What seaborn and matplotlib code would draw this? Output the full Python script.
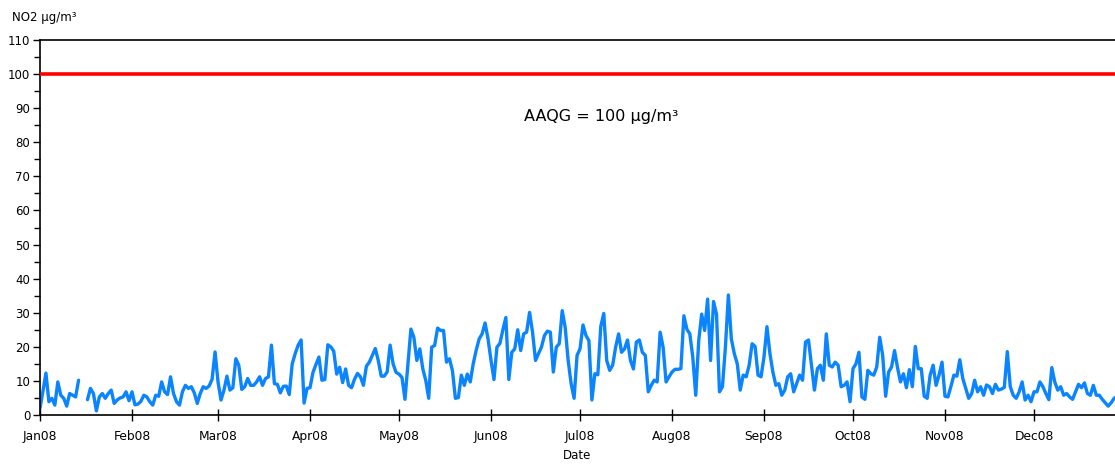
import numpy as np
import pandas as pd
import matplotlib
matplotlib.use("Agg")
import matplotlib.pyplot as plt
from matplotlib.ticker import MultipleLocator
import seaborn as sns

# Daily NO2 values (µg/m³), 2008
jan = [2, 7, 12.3, 3.9, 4.9, 2.9, 9.7, 5.8, 4.9, 2.6, 6.3, 5.8, 5.3, 10.2, np.nan, np.nan,
       4.5, 7.8, 6.3, 1.2, 5.3, 6.3, 4.9, 6.3, 7.3, 3.4, 4.4, 5, 5.3, 6.8, 4.2]
feb = [6.8, 3, 3.2, 4, 5.8, 5.3, 3.9, 2.9, 5.8, 5.5, 9.7, 6.8, 6, 11.2, 6.3, 3.9, 2.9,
       6.8, 8.7, 7.8, 8.3, 6.5, 3.4, 6.3, 8.3, 7.8, 8.5, 10.5, 18.5]
mar = [9.7, 4.4, 7.3, 11.4, 7.3, 8, 16.5, 14.6, 7.5, 8.3, 10.7, 8.7, 8.7, 9.7, 11.2, 8.7,
       10.7, 11.2, 20.5, 9.2, 9, 6.5, 8.4, 8.5, 6, 15, 18, 20.5, 22, 3.5, 7.8]
apr = [8, 12.5, 14.8, 17, 10.2, 10.4, 20.6, 20, 18.7, 12, 14, 9.5, 13.5, 8.7, 8, 10.5,
       12.2, 11.2, 8.7, 14.3, 15.5, 17.5, 19.5, 16, 11.4, 11.4, 12.6, 20.5, 15, 12.5]
may = [12, 11, 4.6, 15, 25.2, 22.8, 16, 19.4, 13.6, 10.2, 4.9, 19.9, 20.4, 25.5, 24.8,
       24.8, 15.5, 16.5, 13, 4.9, 5.1, 11.7, 8.7, 12, 9.7, 15, 19, 22.3, 23.8, 27, 22.3]
jun = [16, 10.4, 19.9, 21, 25, 28.6, 10.4, 18.4, 19.4, 25, 18.9, 23.8, 24.3, 30.1, 24.3,
       16, 18, 19.9, 23.3, 24.6, 24.3, 12.6, 19.9, 20.9, 30.6, 25.7, 16, 9.2, 4.9, 17.5]
jul = [19.4, 26.4, 23.3, 21.8, 4.4, 12.1, 11.8, 26, 29.8, 16, 13.1, 14.6, 19.9, 23.8,
       18.4, 19.4, 22, 16, 13.5, 21.4, 22, 18.4, 17.5, 6.8, 8.7, 10.2, 9.7, 24.3, 19.9,
       9.7, 11.2]
aug = [12.6, 13.4, 13.4, 13.6, 29.1, 25.2, 23.8, 17, 5.8, 21.8, 29.6, 24.8, 34, 16, 33.3,
       29.6, 6.8, 8.3, 19.9, 35.2, 22.3, 18, 15, 7.3, 11.7, 11.2, 14.6, 20.9, 20.1, 11.7,
       11.2]
sep = [17, 25.9, 18, 12.6, 8.7, 9.2, 5.8, 7.3, 11.2, 12.1, 6.8, 9.2, 11.7, 10.2, 21.4, 22,
       14.6, 7.3, 13.6, 14.6, 10.2, 23.8, 14.6, 14.1, 15.5, 14.6, 8.3, 8.7, 9.7, 3.9]
oct_ = [13.6, 15, 18.4, 5.3, 4.6, 13.1, 12.1, 11.7, 14.1, 22.8, 17.5, 5.5, 12.6, 14.1,
        18.9, 13.9, 9.7, 12.1, 8, 13.3, 8.3, 20.1, 13.6, 13.6, 5.5, 4.9, 11.7, 14.6, 8.7,
        11.7, 15.5]
nov = [5.5, 5.3, 8.4, 11.7, 11.4, 16.2, 10.7, 7.8, 4.9, 6.3, 10.2, 6.8, 8.3, 5.8, 8.8,
       8.3, 6.3, 9, 7.3, 7.6, 8.1, 18.6, 8.3, 5.8, 4.9, 6.8, 9.7, 4.4, 5.8, 3.9]
dec = [6.8, 6.8, 9.7, 8.3, 6.3, 4.5, 13.9, 9.7, 7.3, 8.3, 5.8, 6.3, 5.3, 4.6, 6.8, 9, 8,
       9.4, 6.3, 5.8, 8.7, 5.8, 5.8, 4.6, 3.6, 2.6, 3.6, 4.9, 5.5, 6, 6]

month_labels = ["Jan08", "Feb08", "Mar08", "Apr08", "May08", "Jun08",
                "Jul08", "Aug08", "Sep08", "Oct08", "Nov08", "Dec08"]
aaqg = 100
aaqg_label = "AAQG = 100 µg/m³"
y_ticks = list(range(0, 111, 10))

values = jan + feb + mar + apr + may + jun + jul + aug + sep + oct_ + nov + dec
dates = pd.date_range("2008-01-01", periods=len(values), freq="D")
df = pd.DataFrame({"Date": dates, "NO2": values})
# split into continuous segments so missing days leave a gap
df["segment"] = df["NO2"].isna().cumsum()
df = df.dropna()

sns.set_style("white")
plt.rcParams["font.family"] = ["DejaVu Sans"]
plt.rcParams["text.color"] = "black"
plt.rcParams["axes.labelcolor"] = "black"
plt.rcParams["xtick.color"] = "black"
plt.rcParams["ytick.color"] = "black"

fig = plt.figure(figsize=(11.15, 4.66), dpi=100)
ax = fig.add_axes([40 / 1115, 1 - 415 / 466, 1 - 40 / 1115, 375 / 466])

sns.lineplot(data=df, x="Date", y="NO2", units="segment", estimator=None, ax=ax,
             color="#0A84FF", linewidth=2.4)
ax.axhline(aaqg, color="#FF0000", linewidth=2.6, zorder=3)

ax.set_ylim(0, 110)
ax.set_xlim(pd.Timestamp("2008-01-01"), pd.Timestamp("2008-01-01") + pd.Timedelta(days=362.3))
ax.set_yticks(y_ticks)
ax.yaxis.set_minor_locator(MultipleLocator(5))
month_starts = pd.date_range("2008-01-01", periods=12, freq="MS")
ax.set_xticks(month_starts)
ax.set_xticklabels(month_labels)

ax.tick_params(axis="y", which="major", direction="out", length=5, width=1,
               labelsize=8.5, colors="black", left=True, pad=2)
ax.tick_params(axis="y", which="minor", direction="out", length=4, width=1, left=True)
ax.tick_params(axis="x", which="major", direction="inout", length=8, width=1,
               labelsize=8.8, colors="black", bottom=True, pad=7)

for s in ["left", "bottom", "top"]:
    ax.spines[s].set_visible(True)
    ax.spines[s].set_color("black")
    ax.spines[s].set_linewidth(1.2)
ax.spines["right"].set_visible(False)
ax.grid(False)

ax.set_xlabel("Date", fontsize=8.5, labelpad=4, color="black")
ax.set_ylabel("")
fig.text(12 / 1115, 1 - 17 / 466, "NO2 µg/m³", fontsize=8.5, va="center", ha="left",
         color="black")
ax.text(pd.Timestamp("2008-07-08"), 87.5, aaqg_label,
        fontsize=11.5, ha="center", va="center", color="black")

fig.savefig("out.png", dpi=100)
